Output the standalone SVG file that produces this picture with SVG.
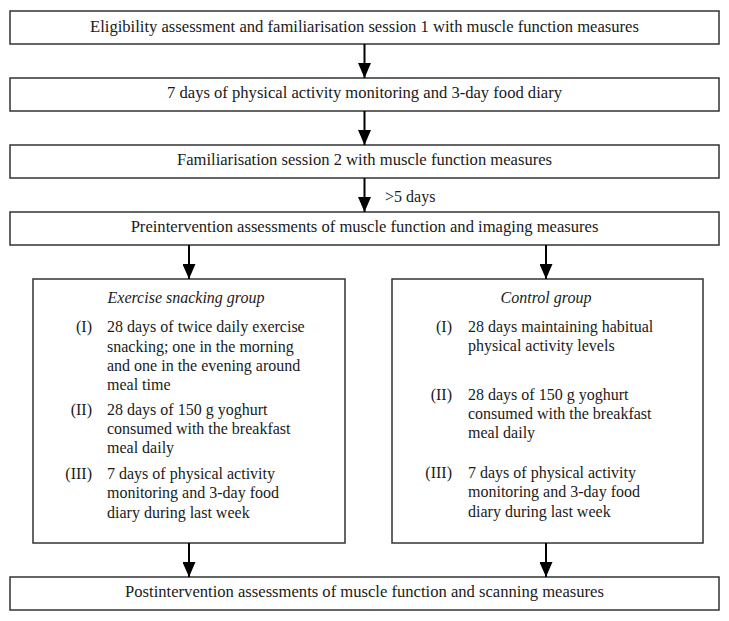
<svg xmlns="http://www.w3.org/2000/svg" width="729" height="621" viewBox="0 0 729 621">
<style>
  .box { fill: #fff; stroke: #333; stroke-width: 1.5; }
  .t { font-family: "Liberation Serif", "Times New Roman", serif; font-size: 16px; fill: #1a1a1a; }
  .w { font-size: 16.6px; }
  .c { text-anchor: middle; }
  .n { text-anchor: end; }
  .i { font-style: italic; }
  .conn line { stroke: #000; stroke-width: 2; }
</style>
<defs>
  <marker id="ah" viewBox="0 0 15 13" refX="15" refY="6.5" markerWidth="15" markerHeight="13" markerUnits="userSpaceOnUse" orient="auto">
    <path d="M0,0 L15,6.5 L0,13 Z" fill="#000"/>
  </marker>
</defs>
<rect width="729" height="621" fill="#fff"/>

<g id="n1">
  <rect class="box" x="10" y="11" width="709" height="33"/>
  <text class="t w c" x="364.5" y="32">Eligibility assessment and familiarisation session 1 with muscle function measures</text>
</g>
<g id="n2">
  <rect class="box" x="10" y="78" width="709" height="33"/>
  <text class="t w c" x="364.5" y="98">7 days of physical activity monitoring and 3-day food diary</text>
</g>
<g id="n3">
  <rect class="box" x="10" y="145" width="709" height="33"/>
  <text class="t w c" x="364.5" y="165">Familiarisation session 2 with muscle function measures</text>
</g>
<g id="n4">
  <rect class="box" x="10" y="212" width="709" height="33"/>
  <text class="t w c" x="364.5" y="232">Preintervention assessments of muscle function and imaging measures</text>
</g>
<g id="n5">
  <rect class="box" x="33" y="279" width="312" height="264"/>
  <text class="t c i" x="186" y="303">Exercise snacking group</text>
  <text class="t n" x="92" y="332">(I)</text>
  <text class="t" x="107" y="332">28 days of twice daily exercise</text>
  <text class="t" x="107" y="352">snacking; one in the morning</text>
  <text class="t" x="107" y="371">and one in the evening around</text>
  <text class="t" x="107" y="390">meal time</text>
  <text class="t n" x="92" y="415">(II)</text>
  <text class="t" x="107" y="415">28 days of 150 g yoghurt</text>
  <text class="t" x="107" y="434">consumed with the breakfast</text>
  <text class="t" x="107" y="453">meal daily</text>
  <text class="t n" x="92" y="479">(III)</text>
  <text class="t" x="107" y="479">7 days of physical activity</text>
  <text class="t" x="107" y="498">monitoring and 3-day food</text>
  <text class="t" x="107" y="518">diary during last week</text>
</g>
<g id="n6">
  <rect class="box" x="392" y="279" width="311" height="264"/>
  <text class="t c i" x="546" y="303">Control group</text>
  <text class="t n" x="452" y="332">(I)</text>
  <text class="t" x="468" y="332">28 days maintaining habitual</text>
  <text class="t" x="468" y="351">physical activity levels</text>
  <text class="t n" x="452" y="400">(II)</text>
  <text class="t" x="468" y="400">28 days of 150 g yoghurt</text>
  <text class="t" x="468" y="419">consumed with the breakfast</text>
  <text class="t" x="468" y="438">meal daily</text>
  <text class="t n" x="452" y="478">(III)</text>
  <text class="t" x="468" y="478">7 days of physical activity</text>
  <text class="t" x="468" y="497">monitoring and 3-day food</text>
  <text class="t" x="468" y="517">diary during last week</text>
</g>
<g id="n7">
  <rect class="box" x="10" y="577" width="709" height="33"/>
  <text class="t w c" x="364.5" y="597">Postintervention assessments of muscle function and scanning measures</text>
</g>

<g id="connectors" class="conn">
  <line x1="364.5" y1="44" x2="364.5" y2="78" marker-end="url(#ah)"/>
  <line x1="364.5" y1="111" x2="364.5" y2="145" marker-end="url(#ah)"/>
  <line x1="364.5" y1="178" x2="364.5" y2="212" marker-end="url(#ah)"/>
  <text class="t" x="385" y="202">&gt;5 days</text>
  <line x1="189" y1="245" x2="189" y2="279" marker-end="url(#ah)"/>
  <line x1="546" y1="245" x2="546" y2="279" marker-end="url(#ah)"/>
  <line x1="189" y1="543" x2="189" y2="577" marker-end="url(#ah)"/>
  <line x1="546" y1="543" x2="546" y2="577" marker-end="url(#ah)"/>
</g>
</svg>
